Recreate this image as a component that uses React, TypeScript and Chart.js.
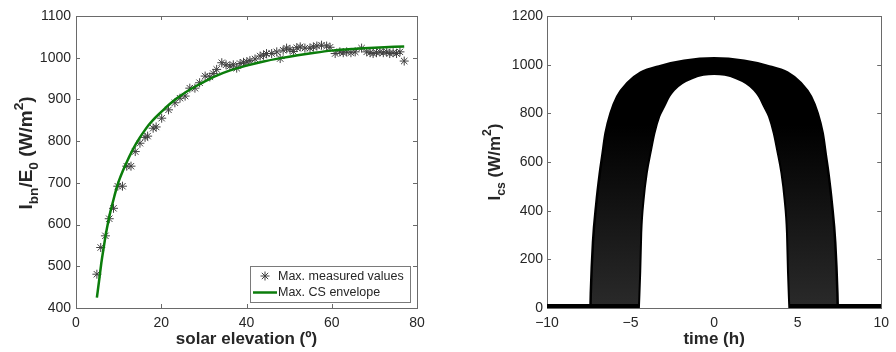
import React, { useEffect, useRef } from 'react';
import { Chart, registerables } from 'chart.js';

Chart.register(...registerables);

// ---------- Left panel data ----------
const elevMeasured = [4.9, 5.8, 6.9, 7.8, 8.8, 9.8, 10.9, 11.9, 12.9, 13.9, 15.0, 16.2, 16.8, 18.1, 18.8, 20.1, 21.7, 23.2, 24.4, 25.6, 26.7, 27.9, 29.0, 30.3, 31.4, 32.2, 33.0, 34.2, 35.2, 36.1, 36.9, 37.7, 38.5, 39.3, 40.1, 40.8, 42.0, 43.2, 44.0, 44.7, 45.9, 47.1, 47.9, 48.6, 49.4, 50.2, 51.0, 51.8, 52.6, 53.7, 54.9, 55.7, 56.5, 57.6, 58.8, 59.6, 60.8, 61.9, 62.7, 63.5, 64.5, 65.5, 67.0, 68.2, 69.0, 69.7, 70.5, 71.3, 72.1, 72.9, 73.6, 74.4, 75.2, 76.0, 77.0];
const ibnMeasured = [481, 545, 573, 614, 639, 692, 692, 740, 740, 775, 795, 809, 812, 831, 834, 855, 875, 892, 903, 908, 927, 927, 940, 956, 954, 962, 972, 988, 983, 980, 983, 975, 986, 989, 990, 993, 997, 1004, 1006, 1010, 1010, 1014, 998, 1018, 1023, 1020, 1015, 1024, 1026, 1023, 1023, 1026, 1028, 1030, 1028, 1025, 1010, 1014, 1012, 1014, 1012, 1014, 1023, 1014, 1012, 1010, 1012, 1014, 1012, 1014, 1010, 1012, 1010, 1014, 992];

const elevEnvelope = [4.9, 5.5, 6, 6.5, 7, 7.5, 8, 8.5, 9, 9.5, 10, 11, 12, 13, 14, 15, 16, 17, 18, 20, 22, 24, 26, 28, 30, 33, 36, 40, 44, 48, 52, 56, 60, 65, 70, 77];
const ibnEnvelope = [425, 472, 512, 545, 577, 604, 628, 648, 668, 687, 703, 729, 752, 773, 792, 809, 824, 838, 850, 870, 889, 905, 919, 931, 942, 957, 969, 981, 991, 999, 1006, 1012, 1017, 1021, 1024, 1027];

const legendLabels = ['Max. measured values', 'Max. CS envelope'];

// ---------- Right panel data ----------
const timeOuter = [-7.4, -7.38, -7.25, -7.05, -6.85, -6.7, -6.5, -6.2, -5.8, -5.2, -4.4, -3.2, -1.8, 0, 1.8, 3.2, 4.4, 5.2, 5.8, 6.2, 6.5, 6.7, 6.85, 7.05, 7.25, 7.38, 7.4];
const icsOuter = [0, 60, 270, 430, 550, 623, 718, 800, 869, 924, 967, 995, 1016, 1026, 1016, 995, 967, 924, 869, 800, 718, 623, 550, 430, 270, 60, 0];

const timeInner = [-4.5, -4.42, -4.36, -4.22, -4.03, -3.77, -3.57, -3.28, -2.99, -2.69, -2.4, -1.91, -1.32, -0.64, 0, 0.64, 1.32, 1.91, 2.4, 2.69, 2.99, 3.28, 3.57, 3.77, 4.03, 4.22, 4.36, 4.42, 4.5];
const icsInner = [0, 150, 308, 445, 554, 650, 718, 787, 828, 869, 896, 924, 944, 958, 962, 958, 944, 924, 896, 869, 828, 787, 718, 650, 554, 445, 308, 150, 0];

const timeNight = [-10, -4.5, 0, 4.5, 10];
const icsNight = [0, 0, null, 0, 0];

const FONT = 'Arial, "Liberation Sans", Helvetica, sans-serif';
const TEXT = '#262626';
const AXIS = '#6a6a6a';

type Part = { t: string; sub?: boolean; sup?: boolean };

function drawRich(ctx: CanvasRenderingContext2D, parts: Part[], cx: number, cy: number, size: number) {
  ctx.save();
  ctx.translate(cx, cy);
  ctx.rotate(-Math.PI / 2);
  const small = size * 0.72;
  const widths = parts.map((p) => {
    ctx.font = `bold ${p.sub || p.sup ? small : size}px ${FONT}`;
    return ctx.measureText(p.t).width;
  });
  const total = widths.reduce((a, b) => a + b, 0);
  let x = -total / 2;
  ctx.fillStyle = TEXT;
  ctx.textAlign = 'left';
  ctx.textBaseline = 'middle';
  parts.forEach((p, i) => {
    ctx.font = `bold ${p.sub || p.sup ? small : size}px ${FONT}`;
    const dy = p.sub ? size * 0.38 : p.sup ? -size * 0.42 : 0;
    ctx.fillText(p.t, x, dy);
    x += widths[i];
  });
  ctx.restore();
}

function drawStar(ctx: CanvasRenderingContext2D, x: number, y: number, r: number) {
  ctx.beginPath();
  ctx.moveTo(x - r, y); ctx.lineTo(x + r, y);
  ctx.moveTo(x, y - r); ctx.lineTo(x, y + r);
  const d = r * Math.SQRT1_2;
  ctx.moveTo(x - d, y - d); ctx.lineTo(x + d, y + d);
  ctx.moveTo(x - d, y + d); ctx.lineTo(x + d, y - d);
  ctx.stroke();
}

function makeDecor(opts: { title: Part[]; titleOffset: number; titleShift: number; titleSize: number; legend: boolean }) {
  return {
    id: 'matlabDecor',
    beforeDatasetsDraw(chart: any) {
      const { ctx, chartArea: a } = chart;
      ctx.save();
      ctx.strokeStyle = AXIS;
      ctx.lineWidth = 1;
      ctx.strokeRect(Math.round(a.left) + 0.5, Math.round(a.top) + 0.5, Math.round(a.right - a.left), Math.round(a.bottom - a.top));
      const tl = 4;
      const xs = chart.scales.x;
      const ys = chart.scales.y;
      ctx.beginPath();
      xs.ticks.forEach((t: any) => {
        const px = Math.round(xs.getPixelForValue(t.value)) + 0.5;
        ctx.moveTo(px, a.bottom); ctx.lineTo(px, a.bottom - tl);
        ctx.moveTo(px, a.top); ctx.lineTo(px, a.top + tl);
      });
      ys.ticks.forEach((t: any) => {
        const py = Math.round(ys.getPixelForValue(t.value)) + 0.5;
        ctx.moveTo(a.left, py); ctx.lineTo(a.left + tl, py);
        ctx.moveTo(a.right, py); ctx.lineTo(a.right - tl, py);
      });
      ctx.stroke();
      ctx.restore();
    },
    afterDraw(chart: any) {
      const { ctx, chartArea: a } = chart;
      drawRich(ctx, opts.title, a.left - opts.titleOffset, (a.top + a.bottom) / 2 + opts.titleShift, opts.titleSize);
      if (opts.legend) {
        const ds0 = chart.data.datasets[1];
        const ds1 = chart.data.datasets[0];
        const w = 160, h = 36;
        const bx = a.right - 7 - w;
        const by = a.bottom - 6 - h;
        ctx.save();
        ctx.fillStyle = '#fff';
        ctx.fillRect(bx, by, w, h);
        ctx.strokeStyle = '#7a7a7a';
        ctx.lineWidth = 1;
        ctx.strokeRect(Math.round(bx) + 0.5, Math.round(by) + 0.5, w, h);
        ctx.strokeStyle = ds0.borderColor;
        ctx.lineWidth = 1;
        drawStar(ctx, bx + 15, by + 10, 4.5);
        ctx.strokeStyle = ds1.borderColor;
        ctx.lineWidth = ds1.borderWidth;
        ctx.beginPath();
        ctx.moveTo(bx + 3, by + 26.5);
        ctx.lineTo(bx + 27, by + 26.5);
        ctx.stroke();
        ctx.fillStyle = TEXT;
        ctx.font = `12.5px ${FONT}`;
        ctx.textAlign = 'left';
        ctx.textBaseline = 'middle';
        ctx.fillText(ds0.label, bx + 28, by + 10.5);
        ctx.fillText(ds1.label, bx + 28, by + 26.5);
        ctx.restore();
      }
    },
  };
}

const plainFmt = (v: any) => (Number(v) < 0 ? '\u2212' + Math.abs(Number(v)) : String(v));

function axisCommon(min: number, max: number, step: number, pad: number) {
  return {
    type: 'linear' as const,
    min,
    max,
    ticks: {
      stepSize: step,
      padding: pad,
      color: TEXT,
      font: { family: FONT, size: 14 },
      maxRotation: 0,
      autoSkip: false,
      callback: plainFmt,
    },
    grid: { display: false, drawTicks: false },
    border: { display: false },
  };
}

function bandFill(context: any) {
  const chart = context.chart;
  const a = chart.chartArea;
  const ys = chart.scales.y;
  if (!a || !ys) return '#000';
  const g = chart.ctx.createLinearGradient(0, a.top, 0, a.bottom);
  const yTop = (ys.getPixelForValue(750) - a.top) / (a.bottom - a.top);
  g.addColorStop(0, '#000');
  g.addColorStop(Math.min(Math.max(yTop, 0), 1), '#000');
  g.addColorStop(1, '#2a2a2a');
  return g;
}

export default function App() {
  const leftRef = useRef<HTMLCanvasElement>(null);
  const rightRef = useRef<HTMLCanvasElement>(null);

  useEffect(() => {
    const left = new Chart(leftRef.current as HTMLCanvasElement, {
      type: 'line',
      data: {
        datasets: [
          {
            label: legendLabels[1],
            data: elevEnvelope.map((x, i) => ({ x, y: ibnEnvelope[i] })),
            borderColor: '#0b7d0b',
            borderWidth: 2.5,
            pointRadius: 0,
            fill: false,
            cubicInterpolationMode: 'monotone',
            order: 0,
          },
          {
            label: legendLabels[0],
            data: elevMeasured.map((x, i) => ({ x, y: ibnMeasured[i] })),
            showLine: false,
            pointStyle: 'star',
            pointRadius: 4.5,
            borderColor: '#404040',
            backgroundColor: 'transparent',
            borderWidth: 1,
            pointBorderWidth: 1,
            order: 1,
          },
        ],
      } as any,
      options: {
        animation: false,
        responsive: false,
        devicePixelRatio: 1,
        layout: { padding: { top: 16, right: 31, bottom: 0, left: 0 } },
        plugins: { legend: { display: false }, tooltip: { enabled: false } },
        scales: {
          x: {
            ...axisCommon(0, 80, 20, 7),
            title: { display: true, text: 'solar elevation (º)', color: TEXT, font: { family: FONT, size: 17, weight: 'bold' }, padding: { top: 0, bottom: 2 } },
            afterFit: (s: any) => { s.height = 44; },
          },
          y: {
            ...axisCommon(400, 1100, 100, 5),
            afterFit: (s: any) => { s.width = 76; },
          },
        },
      } as any,
      plugins: [
        makeDecor({
          title: [{ t: 'I' }, { t: 'bn', sub: true }, { t: '/E' }, { t: '0', sub: true }, { t: ' (W/m' }, { t: '2', sup: true }, { t: ')' }],
          titleOffset: 49,
          titleShift: -9,
          titleSize: 19,
          legend: true,
        }),
      ],
    });

    const right = new Chart(rightRef.current as HTMLCanvasElement, {
      type: 'line',
      data: {
        datasets: [
          {
            label: 'night',
            data: timeNight.map((x, i) => ({ x, y: icsNight[i] })),
            borderColor: '#000',
            borderWidth: 8,
            pointRadius: 0,
            spanGaps: false,
            fill: false,
            order: 0,
          },
          {
            label: 'inner',
            data: timeInner.map((x, i) => ({ x, y: icsInner[i] })),
            borderColor: '#000',
            borderWidth: 2,
            backgroundColor: '#fff',
            pointRadius: 0,
            fill: 'origin',
            cubicInterpolationMode: 'monotone',
            order: 1,
          },
          {
            label: 'outer',
            data: timeOuter.map((x, i) => ({ x, y: icsOuter[i] })),
            borderColor: '#000',
            borderWidth: 2.5,
            backgroundColor: bandFill,
            pointRadius: 0,
            fill: 'origin',
            cubicInterpolationMode: 'monotone',
            order: 2,
          },
        ],
      } as any,
      options: {
        animation: false,
        responsive: false,
        devicePixelRatio: 1,
        layout: { padding: { top: 16, right: 8, bottom: 0, left: 0 } },
        plugins: { legend: { display: false }, tooltip: { enabled: false } },
        scales: {
          x: {
            ...axisCommon(-10, 10, 5, 7),
            title: { display: true, text: 'time (h)', color: TEXT, font: { family: FONT, size: 17, weight: 'bold' }, padding: { top: 0, bottom: 2 } },
            afterFit: (s: any) => { s.height = 44; },
          },
          y: {
            ...axisCommon(0, 1200, 200, 4),
            afterFit: (s: any) => { s.width = 99; },
          },
        },
      } as any,
      plugins: [
        makeDecor({
          title: [{ t: 'I' }, { t: 'cs', sub: true }, { t: ' (W/m' }, { t: '2', sup: true }, { t: ')' }],
          titleOffset: 52,
          titleShift: 0,
          titleSize: 17,
          legend: false,
        }),
      ],
    });

    return () => {
      left.destroy();
      right.destroy();
    };
  }, []);

  return (
    <div style={{ position: 'fixed', left: 0, top: 0, width: 896, height: 352, background: '#fff', overflow: 'hidden' }}>
      <div style={{ position: 'absolute', left: 0, top: 0, width: 448, height: 352 }}>
        <canvas ref={leftRef} width={448} height={352} style={{ width: 448, height: 352, display: 'block' }} />
      </div>
      <div style={{ position: 'absolute', left: 448, top: 0, width: 448, height: 352 }}>
        <canvas ref={rightRef} width={448} height={352} style={{ width: 448, height: 352, display: 'block' }} />
      </div>
    </div>
  );
}
